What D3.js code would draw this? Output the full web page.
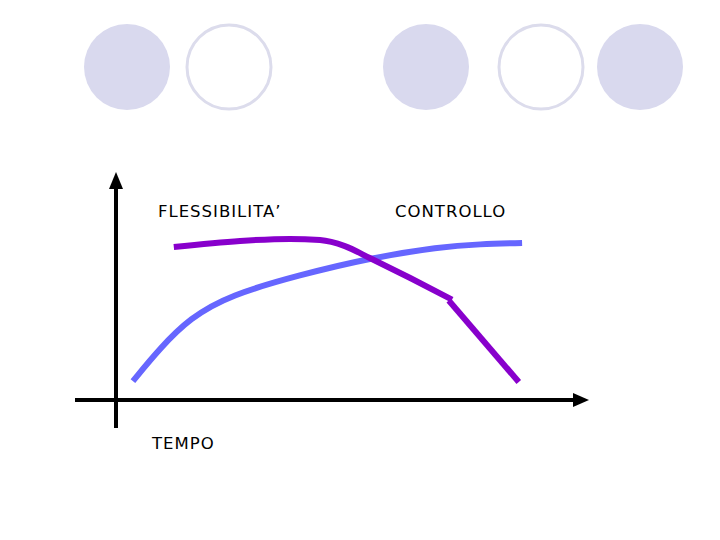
<!DOCTYPE html>
<html>
<head>
<meta charset="utf-8">
<script src="https://cdn.jsdelivr.net/npm/d3@7"></script>
<style>
  body { margin: 0; background: #fff; }
  text { font-family: "DejaVu Sans", Verdana, sans-serif; }
</style>
</head>
<body>
<div id="chart"></div>
<script>
// decorative circles across the top (true = filled)
const circles = [true, false, true, false, true];
const circleX = [127, 229, 426, 541, 640];

// curves, x = tempo (0-100), y = level (0-100)
const controllo = [[3.6, 8.4], [9.4, 23.1], [15.7, 36.4], [24.3, 46.7], [39.1, 55.6],
                   [54, 63.1], [68.9, 68], [77.4, 69.3], [86.4, 69.8]];
const flessibilita = [[12.3, 68], [26.4, 70.7], [37, 71.6], [43.4, 71.1], [48.7, 68.4],
                      [54, 63.1], [62.6, 54.2], [71.5, 44.6]];
const flessTail = [[70.8, 44.2], [85.7, 8]];

const labels = [
  { text: "FLESSIBILITA\u2019", x: 158, y: 217 },
  { text: "CONTROLLO", x: 395, y: 217 },
  { text: "TEMPO", x: 152, y: 449 }
];

const W = 720, H = 540;
const svg = d3.select("#chart").append("svg")
    .attr("width", W)
    .attr("height", H);

svg.selectAll(".dot")
    .data(circles)
    .enter().append("ellipse")
    .attr("cx", (d, i) => circleX[i])
    .attr("cy", 67)
    .attr("rx", d => d ? 43 : 42)
    .attr("ry", d => d ? 43 : 42)
    .attr("fill", d => d ? "#d9d9ee" : "#fff")
    .attr("stroke", d => d ? "none" : "#dcdcec")
    .attr("stroke-width", 3);

const x = d3.scaleLinear().domain([0, 100]).range([116, 586]);
const y = d3.scaleLinear().domain([0, 100]).range([400, 175]);

// axes
svg.append("line")
    .attr("x1", 75).attr("x2", 576)
    .attr("y1", y(0)).attr("y2", y(0))
    .attr("stroke", "#000").attr("stroke-width", 4);
svg.append("path")
    .attr("d", "M589,400 L573,393 L573,407 Z")
    .attr("fill", "#000");
svg.append("line")
    .attr("x1", x(0)).attr("x2", x(0))
    .attr("y1", 428).attr("y2", 186)
    .attr("stroke", "#000").attr("stroke-width", 4);
svg.append("path")
    .attr("d", "M116,172 L109,189 L123,189 Z")
    .attr("fill", "#000");

const line = d3.line()
    .x(d => x(d[0]))
    .y(d => y(d[1]));

svg.append("path")
    .attr("d", line.curve(d3.curveBasis)(controllo))
    .attr("fill", "none")
    .attr("stroke", "#6666ff")
    .attr("stroke-width", 6);

svg.append("path")
    .attr("d", line.curve(d3.curveMonotoneX)(flessibilita))
    .attr("fill", "none")
    .attr("stroke", "#8800cc")
    .attr("stroke-width", 6);

svg.append("path")
    .attr("d", line.curve(d3.curveLinear)(flessTail))
    .attr("fill", "none")
    .attr("stroke", "#8800cc")
    .attr("stroke-width", 6);

svg.selectAll(".lbl")
    .data(labels)
    .enter().append("text")
    .attr("x", d => d.x)
    .attr("y", d => d.y)
    .style("font-size", "16.5px")
    .style("letter-spacing", "1px")
    .attr("fill", "#000")
    .text(d => d.text);
</script>
</body>
</html>
